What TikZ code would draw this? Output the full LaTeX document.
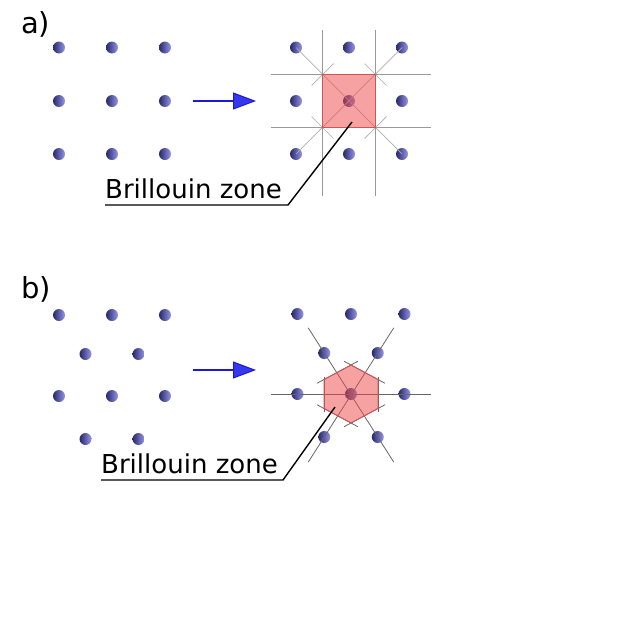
\documentclass[tikz,border=0pt]{standalone}
\usepackage{fontspec}
\setmainfont{DejaVu Sans}
\usepackage{xcolor}
\usepackage{tikz}
\usetikzlibrary{arrows.meta,calc}

\definecolor{atomdark}{RGB}{40,40,105}
\definecolor{atomblue}{RGB}{75,75,170}
\definecolor{atomlight}{RGB}{150,150,235}
\definecolor{zonered}{RGB}{240,70,70}
\definecolor{zoneedge}{RGB}{205,85,85}
\definecolor{arrowblue}{RGB}{25,25,215}
\definecolor{headblue}{RGB}{55,55,235}

\tikzset{
  atom/.style={circle, inner sep=0pt, minimum size=12pt,
    left color=atomdark, middle color=atomblue, right color=atomlight},
  zone/.style={draw=zoneedge, fill=zonered, fill opacity=0.5, line width=0.8pt},
  gridline/.style={draw=black!40, line width=1pt},
  diagline/.style={draw=black!32, line width=0.7pt},
  hexline/.style={draw=black!60, line width=0.8pt},
  maparrow/.style={draw=arrowblue, line width=2.6pt,
    -{Triangle[length=23pt, width=17pt, fill=headblue, line width=1pt]}},
  leader/.style={draw=black, line width=1.4pt},
  panel/.style={inner sep=0pt, anchor=base west, font=\fontsize{29pt}{34pt}\selectfont},
  zonelabel/.style={inner sep=0pt, anchor=base west, font=\fontsize{26pt}{30pt}\selectfont}
}

\begin{document}
\begin{tikzpicture}[x=1pt, y=-1pt]
    \useasboundingbox (0,0) rectangle (640,640);

    % ---------------- a) square lattice ----------------
    \node[panel] (labA) at (21,33) {a)};
    % Direct lattice
    \foreach \i/\y in {1/47.5, 2/101, 3/154}
      \foreach \j/\x in {1/59, 2/112, 3/165}
        \node[atom] (a\i\j) at (\x,\y) {};
    % Reciprocal lattice
    \foreach \i/\y in {1/47.5, 2/101, 3/154}
      \foreach \j/\x in {1/296, 2/349, 3/402}
        \node[atom] (ra\i\j) at (\x,\y) {};
    % Map arrow
    \coordinate (arrA0) at (193,101);
    \coordinate (arrA1) at (256,101);
    \draw[maparrow] (arrA0) -- (arrA1);
    % Bisectors of nearest neighbours
    \draw[gridline] (322.5,30) -- (322.5,196);
    \draw[gridline] (375.5,30) -- (375.5,196);
    \draw[gridline] (271,74.5) -- (431,74.5);
    \draw[gridline] (271,127.5) -- (431,127.5);
    % Lines to next nearest neighbours
    \draw[diagline] (ra11.center) -- (ra33.center);
    \draw[diagline] (ra13.center) -- (ra31.center);
    % Their bisectors, through the corners
    \foreach \cx/\cy/\s in {322.5/74.5/1, 375.5/74.5/-1, 322.5/127.5/-1, 375.5/127.5/1}
      \draw[diagline] (\cx-11,\cy+11*\s) -- (\cx+11,\cy-11*\s);
    % First Brillouin zone
    \draw[zone] (322.5,74.5) rectangle (375.5,127.5);
    % Label
    \node[zonelabel] (bzA) at (105,198) {Brillouin zone};
    \coordinate (ulA) at (288,205);
    \coordinate (ptA) at (352,122);
    \draw[leader] (bzA.west |- ulA) -- (ulA) -- (ptA);

    % ---------------- b) hexagonal lattice ----------------
    \node[panel] (labB) at (21,298) {b)};
    % Direct lattice
    \foreach \j/\x in {1/59, 2/112, 3/165} {
      \node[atom] (b1\j) at (\x,315) {};
      \node[atom] (b3\j) at (\x,396) {};
    }
    \foreach \j/\x in {1/85.5, 2/138.5} {
      \node[atom] (b2\j) at (\x,354) {};
      \node[atom] (b4\j) at (\x,439) {};
    }
    % Reciprocal lattice
    \foreach \j/\x in {1/297.5, 2/351, 3/404.5} {
      \node[atom] (rb1\j) at (\x,314) {};
      \node[atom] (rb3\j) at (\x,394) {};
    }
    \foreach \j/\x in {1/324.25, 2/377.75} {
      \node[atom] (rb2\j) at (\x,353) {};
      \node[atom] (rb4\j) at (\x,437) {};
    }
    % Map arrow
    \coordinate (arrB0) at (193,370);
    \coordinate (arrB1) at (256,370);
    \draw[maparrow] (arrB0) -- (arrB1);
    % Lines to nearest neighbours
    \draw[hexline] ($(rb31)!-0.25!(rb33)$) -- ($(rb33)!-0.25!(rb31)$);
    \draw[hexline] ($(rb21)!-0.3!(rb42)$) -- ($(rb42)!-0.3!(rb21)$);
    \draw[hexline] ($(rb22)!-0.3!(rb41)$) -- ($(rb41)!-0.3!(rb22)$);
    % Hexagon corners
    \coordinate (h1) at (351,365);
    \coordinate (h2) at (378,379.5);
    \coordinate (h3) at (378,408.5);
    \coordinate (h4) at (351,423);
    \coordinate (h5) at (324,408.5);
    \coordinate (h6) at (324,379.5);
    % Bisectors, a little longer than the edges
    \foreach \p/\q in {h1/h2, h3/h4, h4/h5, h6/h1}
      \draw[hexline, shorten <=-8pt, shorten >=-8pt] (\p) -- (\q);
    \foreach \p/\q in {h2/h3, h5/h6}
      \draw[hexline, shorten <=-3pt, shorten >=-3pt] (\p) -- (\q);
    % First Brillouin zone
    \draw[zone] (h1) -- (h2) -- (h3) -- (h4) -- (h5) -- (h6) -- cycle;
    % Label
    \node[zonelabel] (bzB) at (101,473) {Brillouin zone};
    \coordinate (ulB) at (283,480);
    \coordinate (ptB) at (335,407);
    \draw[leader] (bzB.west |- ulB) -- (ulB) -- (ptB);
\end{tikzpicture}
\end{document}
